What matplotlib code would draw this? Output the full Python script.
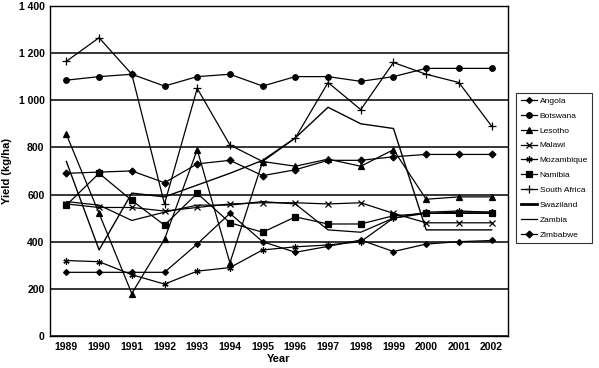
import matplotlib
matplotlib.use("Agg")
import matplotlib.pyplot as plt

plt.rcParams['font.family'] = ['Liberation Sans', 'DejaVu Sans']

years = [str(y) for y in range(1989, 2003)]

angola = [270, 270, 270, 270, 390, 520, 400, 355, 380, 407, 358, 390, 400, 405]
botswana = [1085, 1100, 1110, 1060, 1100, 1110, 1060, 1100, 1100, 1080, 1100, 1135, 1135, 1135]
lesotho = [855, 520, 180, 410, 790, 310, 740, 720, 750, 720, 790, 580, 590, 590]
malawi = [560, 545, 545, 530, 545, 560, 565, 565, 560, 565, 520, 480, 480, 480]
mozambique = [320, 315, 260, 220, 275, 290, 365, 378, 386, 400, 500, 525, 530, 525]
namibia = [555, 690, 575, 470, 605, 480, 440, 505, 475, 475, 510, 520, 520, 520]
south_africa = [1165, 1265, 1110, 560, 1050, 810, 740, 840, 1075, 960, 1160, 1110, 1075, 890]
swaziland = [740, 365, 606, 590, 640, 690, 745, 840, 970, 900, 880, 450, 450, 450]
zambia = [570, 555, 490, 525, 555, 555, 570, 560, 450, 440, 500, 520, 525, 525]
zimbabwe = [690, 695, 700, 650, 730, 745, 680, 705, 745, 745, 760, 770, 770, 770]

# name, values, marker, marker size, line width
series = [
    ("Angola", angola, "D", 3, 0.9),
    ("Botswana", botswana, "o", 4, 0.9),
    ("Lesotho", lesotho, "^", 4, 0.9),
    ("Malawi", malawi, "x", 4, 0.9),
    ("Mozambique", mozambique, (6, 2, 0), 4.5, 0.9),
    ("Namibia", namibia, "s", 4, 0.9),
    ("South Africa", south_africa, "+", 6, 0.9),
    ("Swaziland", swaziland, None, 0, 1.0),
    ("Zambia", zambia, None, 0, 0.9),
    ("Zimbabwe", zimbabwe, "D", 3.5, 0.9),
]

fig = plt.figure(figsize=(5.99, 3.68), dpi=100)
ax = fig.add_axes([0.0835, 0.087, 0.7645, 0.897])

x = list(range(len(years)))
for name, vals, mk, ms, lw in series:
    ax.plot(x, vals, color='black', lw=lw, marker=mk, ms=ms,
            mew=0.9, mfc='black', mec='black', label=name, zorder=3)

ax.set_xlim(-0.5, len(years) - 0.5)
ax.set_ylim(0, 1400)
ax.set_xticks(x)
ax.set_xticklabels(years, fontsize=7.5, fontweight='bold')
yt = list(range(0, 1401, 200))
ax.set_yticks(yt)
ax.set_yticklabels([f"{v:,}".replace(",", " ") for v in yt], fontsize=7.5, fontweight='bold')
ax.tick_params(axis='both', length=0, pad=4)
ax.yaxis.grid(True, color='black', lw=1.1)
ax.set_axisbelow(True)
for sp in ax.spines.values():
    sp.set_color('black')
    sp.set_linewidth(1.0)

ax.set_xlabel("Year", fontsize=8, fontweight='bold', labelpad=2)
ax.set_ylabel("Yield (kg/ha)", fontsize=8, fontweight='bold')
ax.yaxis.set_label_coords(-0.082, 0.5)

# thicker key line for Swaziland, as in the original legend
leg = fig.legend(loc='upper left', bbox_to_anchor=(0.862, 0.748), fontsize=6,
                 frameon=True, fancybox=False, edgecolor='black',
                 handlelength=2.0, labelspacing=0.85, borderpad=0.5,
                 handletextpad=0.3, borderaxespad=0)
leg.get_frame().set_linewidth(0.8)
leg.get_lines()[7].set_linewidth(2.0)

fig.savefig("out.png", dpi=100)
